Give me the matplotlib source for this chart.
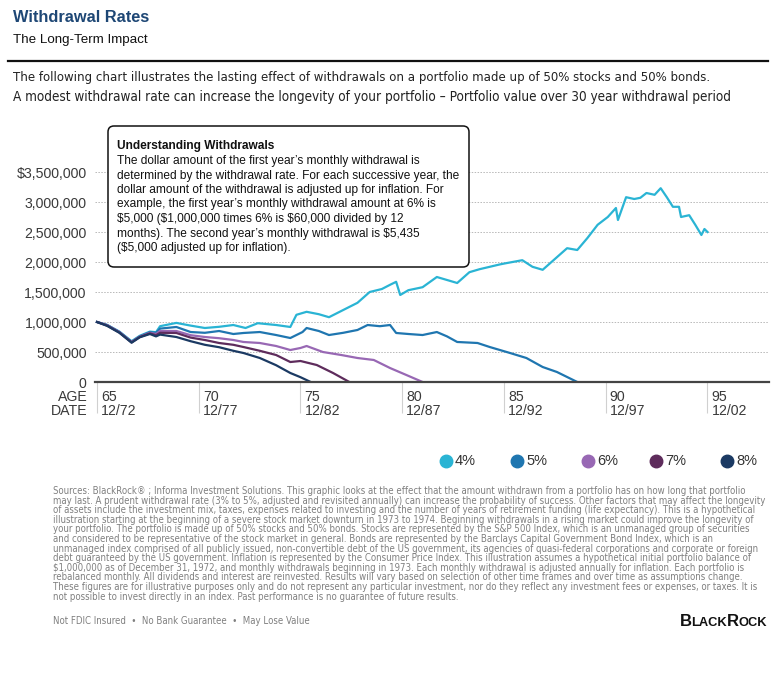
import matplotlib
matplotlib.use("Agg")
import matplotlib.pyplot as plt
from matplotlib.patches import FancyBboxPatch
from matplotlib.lines import Line2D
from matplotlib.transforms import IdentityTransform, blended_transform_factory

# ---- data (age, portfolio value in $) ----
ages_4 = [65.0, 65.5, 66.1, 66.7, 67.1, 67.6, 67.9, 68.1, 68.9, 69.6, 70.3, 71.0, 71.7, 72.3, 72.9,
          73.8, 74.5, 74.8, 75.3, 75.9, 76.4, 77.1, 77.8, 78.4, 79.0, 79.4, 79.7, 79.9, 80.3, 81.0,
          81.7, 82.2, 82.7, 83.3, 83.8, 84.3, 84.8, 85.1, 85.9, 86.4, 86.9, 87.6, 88.1, 88.6, 89.1,
          89.6, 90.1, 90.5, 90.6, 91.0, 91.4, 91.7, 92.0, 92.4, 92.7, 93.0, 93.3, 93.6, 93.7, 94.1,
          94.4, 94.7, 94.85, 95.0]
vals_4 = [1000000, 950000, 840000, 680000, 770000, 840000, 830000, 930000, 985000, 940000, 900000,
          920000, 950000, 900000, 980000, 950000, 917000, 1120000, 1170000, 1130000, 1080000, 1200000,
          1320000, 1500000, 1550000, 1620000, 1670000, 1450000, 1530000, 1580000, 1750000, 1700000,
          1650000, 1830000, 1880000, 1920000, 1960000, 1980000, 2030000, 1920000, 1870000, 2080000,
          2230000, 2200000, 2400000, 2620000, 2750000, 2900000, 2700000, 3080000, 3050000, 3070000,
          3150000, 3120000, 3230000, 3080000, 2920000, 2920000, 2750000, 2780000, 2620000, 2450000,
          2550000, 2500000]

ages_5 = [65.0, 65.5, 66.1, 66.7, 67.1, 67.6, 67.9, 68.1, 68.9, 69.6, 70.3, 71.0, 71.7, 72.2, 73.0,
          73.8, 74.5, 75.1, 75.3, 75.9, 76.4, 77.1, 77.8, 78.3, 78.9, 79.4, 79.7, 80.3, 81.0, 81.7,
          82.2, 82.7, 83.7, 84.3, 85.3, 86.1, 86.9, 87.6, 88.6]
vals_5 = [1000000, 950000, 835000, 670000, 760000, 830000, 820000, 890000, 917000, 833000, 820000,
          850000, 800000, 817000, 833000, 783000, 733000, 833000, 900000, 850000, 783000, 820000,
          867000, 950000, 930000, 950000, 817000, 800000, 783000, 833000, 760000, 667000, 650000,
          583000, 483000, 400000, 250000, 167000, 0]

ages_6 = [65.0, 65.5, 66.1, 66.7, 67.1, 67.6, 67.9, 68.1, 68.9, 69.6, 70.3, 71.0, 71.7, 72.2, 73.0,
          73.8, 74.5, 75.0, 75.3, 76.1, 77.0, 77.8, 78.6, 79.4, 80.2, 81.0]
vals_6 = [1000000, 945000, 830000, 665000, 755000, 820000, 800000, 850000, 850000, 780000, 750000,
          730000, 700000, 667000, 650000, 600000, 533000, 567000, 600000, 500000, 450000, 400000,
          367000, 233000, 117000, 0]

ages_7 = [65.0, 65.5, 66.1, 66.7, 67.1, 67.6, 67.9, 68.1, 68.9, 69.6, 70.3, 71.0, 71.7, 72.2, 73.0,
          73.8, 74.5, 75.0, 75.8, 76.6, 77.4]
vals_7 = [1000000, 940000, 825000, 660000, 750000, 810000, 780000, 820000, 817000, 740000, 700000,
          650000, 620000, 583000, 520000, 450000, 333000, 350000, 283000, 150000, 0]

ages_8 = [65.0, 65.5, 66.1, 66.7, 67.1, 67.6, 67.9, 68.1, 68.9, 69.6, 70.3, 71.0, 71.7, 72.2, 73.0,
          73.8, 74.5, 75.0, 75.5]
vals_8 = [1000000, 935000, 820000, 655000, 745000, 800000, 760000, 790000, 750000, 680000, 620000,
          580000, 520000, 483000, 400000, 280000, 150000, 80000, 0]

rates = ["4%", "5%", "6%", "7%", "8%"]
colors = ["#2ab4d4", "#1f76b0", "#9868b4", "#5e2c5c", "#1b3a63"]

age_ticks = [65, 70, 75, 80, 85, 90, 95]
date_ticks = ["12/72", "12/77", "12/82", "12/87", "12/92", "12/97", "12/02"]
y_ticks = [0, 500000, 1000000, 1500000, 2000000, 2500000, 3000000, 3500000]
y_labels = ["0", "500,000", "1,000,000", "1,500,000", "2,000,000", "2,500,000", "3,000,000", "$3,500,000"]

box_title = "Understanding Withdrawals"
box_lines = [
    "The dollar amount of the first year\u2019s monthly withdrawal is",
    "determined by the withdrawal rate. For each successive year, the",
    "dollar amount of the withdrawal is adjusted up for inflation. For",
    "example, the first year\u2019s monthly withdrawal amount at 6% is",
    "$5,000 ($1,000,000 times 6% is $60,000 divided by 12",
    "months). The second year\u2019s monthly withdrawal is $5,435",
    "($5,000 adjusted up for inflation).",
]

foot_lines = [
    "Sources: BlackRock\u00ae ; Informa Investment Solutions. This graphic looks at the effect that the amount withdrawn from a portfolio has on how long that portfolio",
    "may last. A prudent withdrawal rate (3% to 5%, adjusted and revisited annually) can increase the probability of success. Other factors that may affect the longevity",
    "of assets include the investment mix, taxes, expenses related to investing and the number of years of retirement funding (life expectancy). This is a hypothetical",
    "illustration starting at the beginning of a severe stock market downturn in 1973 to 1974. Beginning withdrawals in a rising market could improve the longevity of",
    "your portfolio. The portfolio is made up of 50% stocks and 50% bonds. Stocks are represented by the S&P 500 Index, which is an unmanaged group of securities",
    "and considered to be representative of the stock market in general. Bonds are represented by the Barclays Capital Government Bond Index, which is an",
    "unmanaged index comprised of all publicly issued, non-convertible debt of the US government, its agencies of quasi-federal corporations and corporate or foreign",
    "debt guaranteed by the US government. Inflation is represented by the Consumer Price Index. This illustration assumes a hypothetical initial portfolio balance of",
    "$1,000,000 as of December 31, 1972, and monthly withdrawals beginning in 1973. Each monthly withdrawal is adjusted annually for inflation. Each portfolio is",
    "rebalanced monthly. All dividends and interest are reinvested. Results will vary based on selection of other time frames and over time as assumptions change.",
    "These figures are for illustrative purposes only and do not represent any particular investment, nor do they reflect any investment fees or expenses, or taxes. It is",
    "not possible to invest directly in an index. Past performance is no guarantee of future results.",
]

SANS = "Liberation Sans"
NARROW = "DejaVu Sans"   # condensed face is picked through fontstretch when it is installed

W, H = 774, 680
fig = plt.figure(figsize=(W / 100, H / 100), dpi=100)
renderer = fig.canvas.get_renderer()


def px(x, y):
    # pixel position (from top-left) -> figure fraction
    return x / W, 1 - y / H


def put(x, y, s, size, family=SANS, color="#000", weight="normal", ha="left", va="center",
        width=None, stretch="normal"):
    t = fig.text(*px(x, y), s, fontsize=size, family=family, color=color, weight=weight,
                 ha=ha, va=va, parse_math=False, fontstretch=stretch)
    if width is not None:
        # grow / shrink so the line spans the same width as in the reference
        for _ in range(3):
            w = t.get_window_extent(renderer).width
            t.set_fontsize(t.get_fontsize() * width / w)
    return t


# ---- header ----
put(13, 18, "Withdrawal Rates", 12, color="#1e4775", weight="bold", width=137)
put(13, 40, "The Long-Term Impact", 9.5, color="#111", width=134)
fig.add_artist(Line2D([8 / W, 768 / W], [1 - 61 / H] * 2, color="#111", lw=1.6, transform=fig.transFigure))
put(13, 77, "The following chart illustrates the lasting effect of withdrawals on a portfolio made up of 50% stocks and 50% bonds.",
    9, family=NARROW, stretch="condensed", color="#222", width=700)
put(13, 97, "A modest withdrawal rate can increase the longevity of your portfolio \u2013 Portfolio value over 30 year withdrawal period",
    11, family=NARROW, stretch="condensed", color="#222", width=722)

# ---- chart ----
x_left, x_right, y_zero, y_top = 95, 769, 382, 150
px_per_year = 20.35
ax = fig.add_axes([x_left / W, 1 - y_zero / H, (x_right - x_left) / W, (y_zero - y_top) / H])
ax.set_xlim(65 - (97 - x_left) / px_per_year, 65 + (x_right - 97) / px_per_year)
ax.set_ylim(0, 3500000 * (y_zero - y_top) / 210)
for s in ax.spines.values():
    s.set_visible(False)
ax.patch.set_alpha(0)

for v in y_ticks[1:]:
    ax.axhline(v, color="#b8b8b8", lw=0.7, ls=(0, (1.5, 1.5)), zorder=1)
ax.axhline(0, color="#444", lw=1.6, zorder=4, clip_on=False)

series = [(ages_4, vals_4), (ages_5, vals_5), (ages_6, vals_6), (ages_7, vals_7), (ages_8, vals_8)]
for (a, v), c in zip(series, colors):
    ax.plot(a, v, color=c, lw=1.6, zorder=3, solid_joinstyle="round")

ax.set_yticks(y_ticks)
ax.set_yticklabels(y_labels, family=SANS, fontsize=10.2, color="#3a3a3a")
ax.tick_params(axis="y", length=0, pad=6)
ax.set_xticks(age_ticks)
ax.set_xticklabels([])
ax.tick_params(axis="x", length=22, width=0.8, color="#d0d0d0", direction="out")

tr = blended_transform_factory(ax.transData, fig.transFigure)
for a, d in zip(age_ticks, date_ticks):
    ax.text(a + 4 / px_per_year, 1 - 397 / H, str(a), transform=tr, fontsize=10.2, family=SANS,
            color="#3a3a3a", va="center", ha="left")
    ax.text(a + 4 / px_per_year, 1 - 411 / H, d, transform=tr, fontsize=10.2, family=SANS,
            color="#3a3a3a", va="center", ha="left")
put(88, 397, "AGE", 10.2, color="#3a3a3a", ha="right")
put(88, 411, "DATE", 10.2, color="#3a3a3a", ha="right")

# ---- annotation box ----
bx0, by0, bx1, by1 = 108, 126, 469, 267
box = FancyBboxPatch((bx0, H - by1), bx1 - bx0, by1 - by0,
                     boxstyle="round,pad=0,rounding_size=6", transform=IdentityTransform(),
                     facecolor="white", edgecolor="#111", lw=1.1, zorder=10)
fig.add_artist(box)
t = put(117, 146, box_title, 8.6, weight="bold", color="#111")
t.set_zorder(11)
probe = put(117, 0, box_lines[1], 8.8, width=342)
body_size = probe.get_fontsize()
probe.remove()
for i, line in enumerate(box_lines):
    t = put(117, 161 + i * 14.5, line, body_size, color="#111")
    t.set_zorder(11)

# ---- legend ----
leg_x = [446, 517, 588, 656, 727]
for x, r, c in zip(leg_x, rates, colors):
    fig.add_artist(Line2D([x / W], [1 - 461 / H], marker="o", ms=9, color=c, mec=c,
                          ls="", transform=fig.transFigure))
    put(x + 9, 461, r, 10.5, color="#333")

# ---- footnotes ----
probe = put(53, 0, foot_lines[1], 7, family=NARROW, stretch="condensed", width=711)
foot_size = probe.get_fontsize()
probe.remove()
for i, line in enumerate(foot_lines):
    put(53, 491 + i * 9.6, line, foot_size, family=NARROW, stretch="condensed", color="#808080")

put(53, 621, "Not FDIC Insured  \u2022  No Bank Guarantee  \u2022  May Lose Value", 7.5, family=NARROW,
    stretch="condensed", color="#808080", width=256)

# BlackRock wordmark in small caps
x = 680
for piece, size in [("B", 12), ("LACK", 9.3), ("R", 12), ("OCK", 9.3)]:
    t = put(x, 626, piece, size, color="#111", weight="bold", va="baseline")
    x += t.get_window_extent(renderer).width - 0.5

fig.savefig("out.png", dpi=100)
